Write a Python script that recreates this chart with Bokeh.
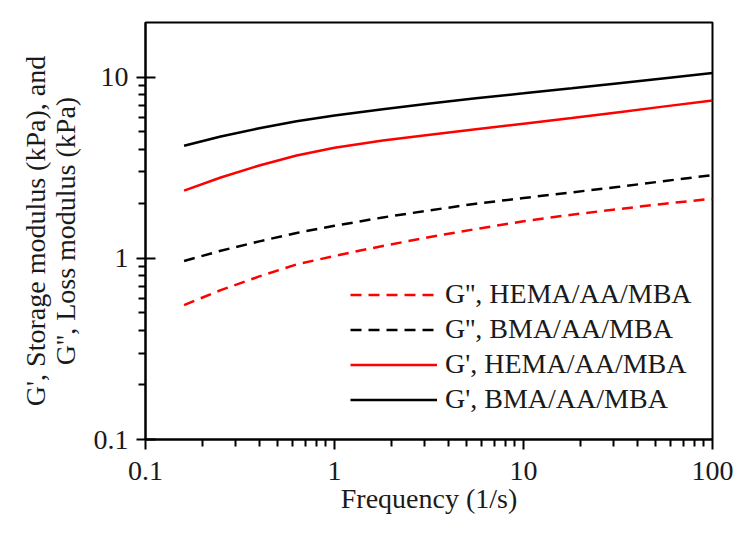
from bokeh.plotting import figure
from bokeh.models import FixedTicker, Legend, LegendItem, CustomJSTickFormatter
from bokeh.embed import file_html
from bokeh.resources import INLINE

# Data
freq = [0.16, 0.25, 0.4, 0.63, 1, 1.8, 3.2, 5.6, 10, 18, 32, 56, 100]
g2_hema = [0.552, 0.667, 0.794, 0.925, 1.03, 1.17, 1.31, 1.45, 1.60, 1.74, 1.87, 2.00, 2.13]
g2_bma = [0.966, 1.10, 1.24, 1.38, 1.51, 1.68, 1.84, 2.00, 2.15, 2.31, 2.48, 2.67, 2.88]
g1_hema = [2.36, 2.79, 3.25, 3.69, 4.07, 4.46, 4.80, 5.15, 5.53, 5.94, 6.40, 6.89, 7.43]
g1_bma = [4.18, 4.70, 5.22, 5.70, 6.14, 6.65, 7.14, 7.64, 8.13, 8.67, 9.25, 9.86, 10.54]

x_major = [0.1, 1, 10, 100]
x_minor = [0.2, 0.3, 0.4, 0.5, 0.6, 0.7, 0.8, 0.9, 2, 3, 4, 5, 6, 7, 8, 9,
           20, 30, 40, 50, 60, 70, 80, 90]
y_major = [0.1, 1, 10]
y_minor = [0.2, 0.3, 0.4, 0.5, 0.6, 0.7, 0.8, 0.9, 2, 3, 4, 5, 6, 7, 8, 9]

labels = ["G'', HEMA/AA/MBA", "G'', BMA/AA/MBA", "G', HEMA/AA/MBA", "G', BMA/AA/MBA"]

FONT = "Liberation Serif"
FS = "28px"

p = figure(width=740, height=520, x_axis_type="log", y_axis_type="log",
           x_range=(0.1, 100), y_range=(0.1, 20),
           output_backend="svg", toolbar_location=None,
           min_border_left=145, min_border_right=28,
           min_border_top=22, min_border_bottom=81)
p.xgrid.visible = False
p.ygrid.visible = False
p.outline_line_color = "black"
p.outline_line_width = 2
p.background_fill_color = "white"
p.border_fill_color = "white"

r1 = p.line(freq, g2_hema, line_color="#ff0000", line_width=2.5, line_dash="11 7")
r2 = p.line(freq, g2_bma, line_color="black", line_width=2.5, line_dash="11 7")
r3 = p.line(freq, g1_hema, line_color="#ff0000", line_width=2.5)
r4 = p.line(freq, g1_bma, line_color="black", line_width=2.5)

fmt = CustomJSTickFormatter(code="return String(tick);")

xa = p.xaxis[0]
xa.ticker = FixedTicker(ticks=x_major, minor_ticks=x_minor)
xa.formatter = fmt
xa.axis_label = "Frequency (1/s)"
xa.major_tick_out = 10
xa.major_tick_in = 0
xa.minor_tick_out = 7
xa.minor_tick_in = 0
xa.major_label_standoff = 12
xa.axis_label_standoff = 0

ya = p.yaxis[0]
ya.ticker = FixedTicker(ticks=y_major, minor_ticks=y_minor)
ya.formatter = fmt
ya.axis_label = "G', Storage modulus (kPa), and\nG'', Loss modulus (kPa)"
ya.major_tick_out = 9
ya.major_tick_in = 10
ya.minor_tick_out = 7
ya.minor_tick_in = 0
ya.major_label_standoff = 8
ya.axis_label_standoff = 10
ya.axis_label_text_line_height = 0.95

for ax in (xa, ya):
    ax.axis_line_width = 2
    ax.axis_line_color = "black"
    ax.major_tick_line_width = 2
    ax.minor_tick_line_width = 2
    ax.major_tick_line_color = "black"
    ax.minor_tick_line_color = "black"
    ax.major_label_text_font = FONT
    ax.major_label_text_font_size = FS
    ax.major_label_text_color = "#1a1a1a"
    ax.axis_label_text_font = FONT
    ax.axis_label_text_font_size = FS
    ax.axis_label_text_font_style = "normal"
    ax.axis_label_text_color = "#1a1a1a"

legend = Legend(items=[LegendItem(label=labels[0], renderers=[r1]),
                       LegendItem(label=labels[1], renderers=[r2]),
                       LegendItem(label=labels[2], renderers=[r3]),
                       LegendItem(label=labels[3], renderers=[r4])],
                location=(205, 24))
legend.border_line_color = None
legend.background_fill_alpha = 0
legend.padding = 0
legend.margin = 0
legend.spacing = 3
legend.glyph_width = 87
legend.glyph_height = 31
legend.label_height = 31
legend.label_standoff = 8
legend.label_text_font = FONT
legend.label_text_font_size = FS
legend.label_text_color = "#1a1a1a"
p.add_layout(legend)

open("out.html", "w").write(file_html(p, INLINE))
